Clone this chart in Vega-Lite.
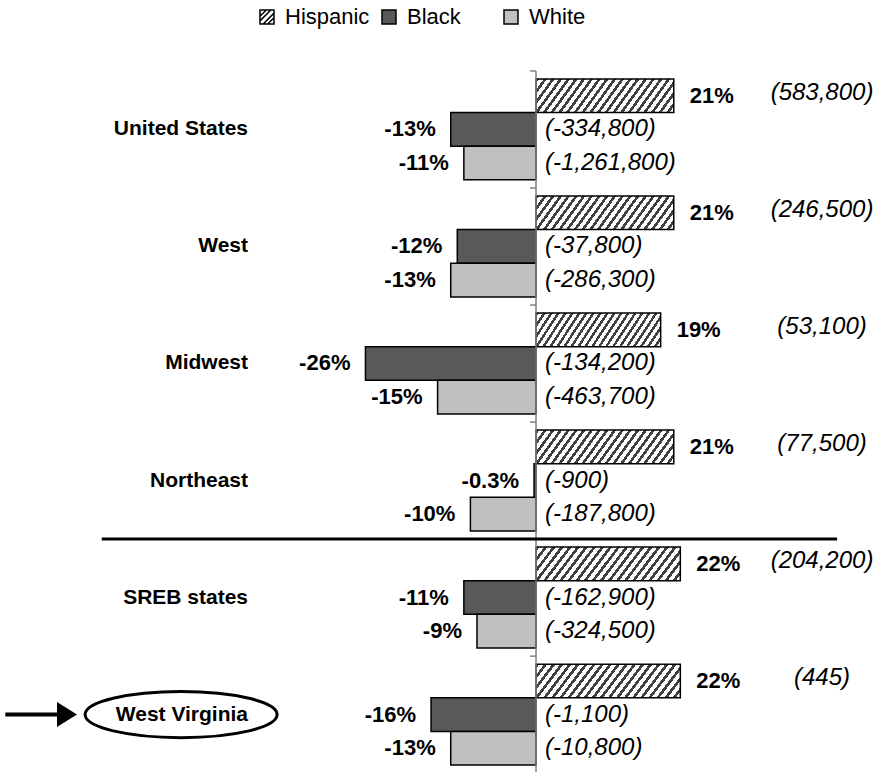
{
"$schema": "https://vega.github.io/schema/vega-lite/v6.json",
"width": 885, "height": 773,
"autosize": {"type": "fit", "contains": "padding"},
"padding": 0,
"background": "#ffffff",
"config": {"view": {"stroke": null}, "font": "Liberation Sans", "text": {"font": "Liberation Sans", "color": "#000000"}},
"datasets": {
"bars": [
{"region": "United States", "group": "Hispanic", "value": 21, "pct": "21%", "count": "(583,800)"},
{"region": "United States", "group": "Black", "value": -13, "pct": "-13%", "count": "(-334,800)"},
{"region": "United States", "group": "White", "value": -11, "pct": "-11%", "count": "(-1,261,800)"},
{"region": "West", "group": "Hispanic", "value": 21, "pct": "21%", "count": "(246,500)"},
{"region": "West", "group": "Black", "value": -12, "pct": "-12%", "count": "(-37,800)"},
{"region": "West", "group": "White", "value": -13, "pct": "-13%", "count": "(-286,300)"},
{"region": "Midwest", "group": "Hispanic", "value": 19, "pct": "19%", "count": "(53,100)"},
{"region": "Midwest", "group": "Black", "value": -26, "pct": "-26%", "count": "(-134,200)"},
{"region": "Midwest", "group": "White", "value": -15, "pct": "-15%", "count": "(-463,700)"},
{"region": "Northeast", "group": "Hispanic", "value": 21, "pct": "21%", "count": "(77,500)"},
{"region": "Northeast", "group": "Black", "value": -0.3, "pct": "-0.3%", "count": "(-900)"},
{"region": "Northeast", "group": "White", "value": -10, "pct": "-10%", "count": "(-187,800)"},
{"region": "SREB states", "group": "Hispanic", "value": 22, "pct": "22%", "count": "(204,200)"},
{"region": "SREB states", "group": "Black", "value": -11, "pct": "-11%", "count": "(-162,900)"},
{"region": "SREB states", "group": "White", "value": -9, "pct": "-9%", "count": "(-324,500)"},
{"region": "West Virginia", "group": "Hispanic", "value": 22, "pct": "22%", "count": "(445)"},
{"region": "West Virginia", "group": "Black", "value": -16, "pct": "-16%", "count": "(-1,100)"},
{"region": "West Virginia", "group": "White", "value": -13, "pct": "-13%", "count": "(-10,800)"}
]
},
"data": {"name": "bars"},
"layer": [
{
"mark": {"type": "bar", "stroke": "#000000", "strokeWidth": 1.5},
"encoding": {
"x": {"field": "value", "type": "quantitative", "scale": {"type": "linear", "domain": [-81.71, 53.2], "nice": false, "zero": false}, "axis": null},
"y": {"field": "region", "type": "nominal", "sort": null, "scale": {"domain": ["United States", "West", "Midwest", "Northeast", "SREB states", "West Virginia"], "paddingInner": 0.138, "paddingOuter": 0.367, "align": 0.919}, "axis": null},
"yOffset": {"field": "group", "type": "nominal", "sort": null, "scale": {"domain": ["Hispanic", "Black", "White"], "paddingInner": 0, "paddingOuter": 0}},
"fill": {
"field": "group", "type": "nominal",
"scale": {"domain": ["Hispanic", "Black", "White"], "range": ["#ffffff", "#595959", "#c0c0c0"]},
"condition": {"test": "datum.group === 'Hispanic'", "value": {"gradient": "linear", "x1": 0, "y1": 0, "x2": 1.25, "y2": 0.221, "stops": [
{"offset": 0, "color": "#404040"}, {"offset": 0.0183, "color": "#404040"}, {"offset": 0.0183, "color": "#ffffff"}, {"offset": 0.0435, "color": "#ffffff"},
{"offset": 0.0435, "color": "#404040"}, {"offset": 0.0617, "color": "#404040"}, {"offset": 0.0617, "color": "#ffffff"}, {"offset": 0.087, "color": "#ffffff"},
{"offset": 0.087, "color": "#404040"}, {"offset": 0.1052, "color": "#404040"}, {"offset": 0.1052, "color": "#ffffff"}, {"offset": 0.1304, "color": "#ffffff"},
{"offset": 0.1304, "color": "#404040"}, {"offset": 0.1487, "color": "#404040"}, {"offset": 0.1487, "color": "#ffffff"}, {"offset": 0.1739, "color": "#ffffff"},
{"offset": 0.1739, "color": "#404040"}, {"offset": 0.1922, "color": "#404040"}, {"offset": 0.1922, "color": "#ffffff"}, {"offset": 0.2174, "color": "#ffffff"},
{"offset": 0.2174, "color": "#404040"}, {"offset": 0.2357, "color": "#404040"}, {"offset": 0.2357, "color": "#ffffff"}, {"offset": 0.2609, "color": "#ffffff"},
{"offset": 0.2609, "color": "#404040"}, {"offset": 0.2791, "color": "#404040"}, {"offset": 0.2791, "color": "#ffffff"}, {"offset": 0.3043, "color": "#ffffff"},
{"offset": 0.3043, "color": "#404040"}, {"offset": 0.3226, "color": "#404040"}, {"offset": 0.3226, "color": "#ffffff"}, {"offset": 0.3478, "color": "#ffffff"},
{"offset": 0.3478, "color": "#404040"}, {"offset": 0.3661, "color": "#404040"}, {"offset": 0.3661, "color": "#ffffff"}, {"offset": 0.3913, "color": "#ffffff"},
{"offset": 0.3913, "color": "#404040"}, {"offset": 0.4096, "color": "#404040"}, {"offset": 0.4096, "color": "#ffffff"}, {"offset": 0.4348, "color": "#ffffff"},
{"offset": 0.4348, "color": "#404040"}, {"offset": 0.453, "color": "#404040"}, {"offset": 0.453, "color": "#ffffff"}, {"offset": 0.4783, "color": "#ffffff"},
{"offset": 0.4783, "color": "#404040"}, {"offset": 0.4965, "color": "#404040"}, {"offset": 0.4965, "color": "#ffffff"}, {"offset": 0.5217, "color": "#ffffff"},
{"offset": 0.5217, "color": "#404040"}, {"offset": 0.54, "color": "#404040"}, {"offset": 0.54, "color": "#ffffff"}, {"offset": 0.5652, "color": "#ffffff"},
{"offset": 0.5652, "color": "#404040"}, {"offset": 0.5835, "color": "#404040"}, {"offset": 0.5835, "color": "#ffffff"}, {"offset": 0.6087, "color": "#ffffff"},
{"offset": 0.6087, "color": "#404040"}, {"offset": 0.627, "color": "#404040"}, {"offset": 0.627, "color": "#ffffff"}, {"offset": 0.6522, "color": "#ffffff"},
{"offset": 0.6522, "color": "#404040"}, {"offset": 0.6704, "color": "#404040"}, {"offset": 0.6704, "color": "#ffffff"}, {"offset": 0.6957, "color": "#ffffff"},
{"offset": 0.6957, "color": "#404040"}, {"offset": 0.7139, "color": "#404040"}, {"offset": 0.7139, "color": "#ffffff"}, {"offset": 0.7391, "color": "#ffffff"},
{"offset": 0.7391, "color": "#404040"}, {"offset": 0.7574, "color": "#404040"}, {"offset": 0.7574, "color": "#ffffff"}, {"offset": 0.7826, "color": "#ffffff"},
{"offset": 0.7826, "color": "#404040"}, {"offset": 0.8009, "color": "#404040"}, {"offset": 0.8009, "color": "#ffffff"}, {"offset": 0.8261, "color": "#ffffff"},
{"offset": 0.8261, "color": "#404040"}, {"offset": 0.8443, "color": "#404040"}, {"offset": 0.8443, "color": "#ffffff"}, {"offset": 0.8696, "color": "#ffffff"},
{"offset": 0.8696, "color": "#404040"}, {"offset": 0.8878, "color": "#404040"}, {"offset": 0.8878, "color": "#ffffff"}, {"offset": 0.913, "color": "#ffffff"},
{"offset": 0.913, "color": "#404040"}, {"offset": 0.9313, "color": "#404040"}, {"offset": 0.9313, "color": "#ffffff"}, {"offset": 0.9565, "color": "#ffffff"},
{"offset": 0.9565, "color": "#404040"}, {"offset": 0.9748, "color": "#404040"}, {"offset": 0.9748, "color": "#ffffff"}, {"offset": 1, "color": "#ffffff"}
]}},
"legend": {
"orient": "none", "legendX": 256, "legendY": 6, "direction": "horizontal", "title": null,
"symbolType": "square", "symbolSize": 196, "symbolStrokeColor": "#000000", "symbolStrokeWidth": 1.5,
"labelFontSize": 22, "labelFont": "Liberation Sans", "labelColor": "#000000", "labelOffset": 7,
"columnPadding": 8, "gridAlign": "all",
"encode": {"symbols": {"update": {
"stroke": {"value": "#000000"},
"strokeWidth": {"value": 1.5},
"shape": {"signal": "(datum.index === 0 || datum.value === 'Hispanic' || datum.label === 'Hispanic') ? 'M-1,-1H1V1H-1Z M-1,-0.1L-0.1,-1 M-1,0.55L0.55,-1 M-0.55,1L1,-0.55 M0.1,1L1,0.1' : 'square'"}
}}}
}
}
}
},
{
"data": {"values": [{}]},
"mark": {"type": "rule", "color": "#808080", "strokeWidth": 1.5, "yOffset": -8, "y2Offset": 7},
"encoding": {
"x": {"datum": 0, "type": "quantitative"},
"y": {"datum": "United States", "bandPosition": 0},
"y2": {"datum": "West Virginia", "bandPosition": 1}
}
},
{
"transform": [{"filter": "datum.group === 'Hispanic'"}],
"mark": {"type": "rule", "color": "#808080", "strokeWidth": 1.5, "yOffset": -8},
"encoding": {
"x": {"datum": 0, "type": "quantitative"},
"x2": {"datum": -0.9},
"y": {"field": "region", "type": "nominal", "sort": null, "bandPosition": 0}
}
},
{
"data": {"values": [{}]},
"mark": {"type": "rule", "color": "#000000", "strokeWidth": 3, "yOffset": -8},
"encoding": {
"x": {"datum": -66.2, "type": "quantitative"},
"x2": {"datum": 45.9},
"y": {"datum": "SREB states", "bandPosition": 0}
}
},
{
"transform": [{"filter": "datum.value > 0"}],
"mark": {"type": "text", "align": "left", "baseline": "middle", "dx": 16, "fontWeight": "bold", "fontSize": 22},
"encoding": {
"x": {"field": "value", "type": "quantitative"},
"y": {"field": "region", "type": "nominal", "sort": null},
"yOffset": {"field": "group", "type": "nominal", "sort": null},
"text": {"field": "pct"}
}
},
{
"transform": [{"filter": "datum.value < 0"}],
"mark": {"type": "text", "align": "right", "baseline": "middle", "dx": -15, "fontWeight": "bold", "fontSize": 22},
"encoding": {
"x": {"field": "value", "type": "quantitative"},
"y": {"field": "region", "type": "nominal", "sort": null},
"yOffset": {"field": "group", "type": "nominal", "sort": null},
"text": {"field": "pct"}
}
},
{
"transform": [{"filter": "datum.group !== 'Hispanic'"}],
"mark": {"type": "text", "align": "left", "baseline": "middle", "dx": 9, "fontStyle": "italic", "fontSize": 24},
"encoding": {
"x": {"datum": 0, "type": "quantitative"},
"y": {"field": "region", "type": "nominal", "sort": null},
"yOffset": {"field": "group", "type": "nominal", "sort": null},
"text": {"field": "count"}
}
},
{
"transform": [{"filter": "datum.group === 'Hispanic'"}],
"mark": {"type": "text", "align": "center", "baseline": "middle", "fontStyle": "italic", "fontSize": 24, "dy": -3},
"encoding": {
"x": {"datum": 43.6, "type": "quantitative"},
"y": {"field": "region", "type": "nominal", "sort": null},
"yOffset": {"field": "group", "type": "nominal", "sort": null},
"text": {"field": "count"}
}
},
{
"transform": [{"filter": "datum.group === 'Hispanic'"}],
"mark": {"type": "text", "align": "right", "baseline": "middle", "fontWeight": "bold", "fontSize": 21},
"encoding": {
"x": {"datum": -43.9, "type": "quantitative"},
"y": {"field": "region", "type": "nominal", "sort": null},
"text": {"field": "region"}
}
},
{
"data": {"values": [{}]},
"mark": {"type": "point", "shape": "M-1,0A1,0.24,0,1,1,1,0A1,0.24,0,1,1,-1,0Z", "size": 36864, "filled": false, "stroke": "#000000", "strokeWidth": 3, "opacity": 1},
"encoding": {
"x": {"datum": -54.1, "type": "quantitative"},
"y": {"datum": "West Virginia"}
}
},
{
"data": {"values": [{}]},
"mark": {"type": "rule", "color": "#000000", "strokeWidth": 4},
"encoding": {
"x": {"datum": -80.9, "type": "quantitative"},
"x2": {"datum": -72.5},
"y": {"datum": "West Virginia"}
}
},
{
"data": {"values": [{}]},
"mark": {"type": "point", "shape": "M-0.8,-1L0.8,0L-0.8,1Z", "size": 625, "filled": true, "fill": "#000000", "stroke": null, "opacity": 1},
"encoding": {
"x": {"datum": -71.5, "type": "quantitative"},
"y": {"datum": "West Virginia"}
}
}
]
}
